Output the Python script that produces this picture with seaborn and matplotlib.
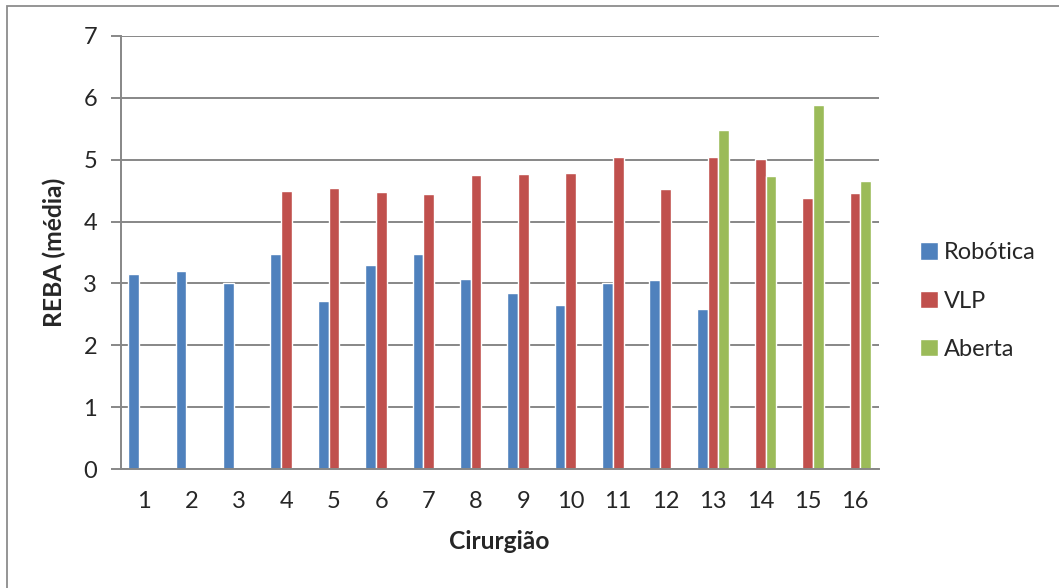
import matplotlib
matplotlib.use("Agg")
import matplotlib.pyplot as plt
from matplotlib.patches import Rectangle
import numpy as np
import pandas as pd
import seaborn as sns

# REBA mean score per surgeon and surgery type (NaN = no surgeries of that type)
cirurgioes = [str(i) for i in range(1, 17)]
robotica = [3.15, 3.20, 3.00, 3.47, 2.72, 3.30, 3.47, 3.07, 2.85, 2.65, 3.00, 3.06, 2.58,
            np.nan, np.nan, np.nan]
vlp = [np.nan, np.nan, np.nan, 4.50, 4.54, 4.48, 4.45, 4.75, 4.77, 4.79, 5.05, 4.52, 5.05,
       5.01, 4.38, 4.46]
aberta = [np.nan] * 12 + [5.48, 4.73, 5.88, 4.65]
tipos = ["Robótica", "VLP", "Aberta"]
cores = ["#4F81BD", "#C0504D", "#9BBB59"]
y_ticks = [0, 1, 2, 3, 4, 5, 6, 7]

df = pd.DataFrame({
    "Cirurgião": cirurgioes * 3,
    "REBA": robotica + vlp + aberta,
    "Tipo": [t for t in tipos for _ in cirurgioes],
})

sns.set_style("white")
plt.rcParams["font.family"] = ["Lato", "DejaVu Sans"]

fig = plt.figure(figsize=(10.59, 5.88), dpi=100)
ax = fig.add_axes([120.7 / 1059, 1 - 469 / 588, (878.7 - 120.7) / 1059, (469 - 36) / 588])

sns.barplot(data=df, x="Cirurgião", y="REBA", hue="Tipo", order=cirurgioes,
            hue_order=tipos, palette=cores, saturation=1, width=0.68,
            errorbar=None, ax=ax, legend=True)

grid_c = "#878787"
ax.set_ylim(0, 7)
ax.set_xlim(-0.5, len(cirurgioes) - 0.5)
ax.set_yticks(y_ticks)
ax.set_yticklabels([str(v) for v in y_ticks], fontsize=17)
ax.yaxis.grid(True, color=grid_c, linewidth=1.4)
ax.set_axisbelow(True)

# category labels centred, tick marks between categories
ax.set_xticks(range(len(cirurgioes)))
ax.set_xticklabels(cirurgioes, fontsize=17)
ax.set_xticks(np.arange(-0.5, len(cirurgioes)), minor=True)
ax.tick_params(axis="x", which="major", length=0, pad=16)
ax.tick_params(axis="x", which="minor", length=7, width=1.4, color=grid_c, direction="out")
ax.tick_params(axis="y", which="major", length=7, width=1.4, color=grid_c, direction="out",
               left=True, pad=10)

for s in ["top", "right"]:
    ax.spines[s].set_visible(False)
for s in ["left", "bottom"]:
    ax.spines[s].set_color(grid_c)
    ax.spines[s].set_linewidth(1.4)

ax.set_xlabel("Cirurgião", fontsize=17.7, fontweight="bold", labelpad=13)
ax.set_ylabel("REBA (média)", fontsize=17.7, fontweight="bold", labelpad=12)

handles, labels = ax.get_legend_handles_labels()
ax.legend(handles, labels, loc="center left", bbox_to_anchor=(899 / 1059, 1 - 301 / 588),
          bbox_transform=fig.transFigure, frameon=False, fontsize=17,
          handlelength=0.75, handleheight=0.75, handletextpad=0.25, labelspacing=1.16)

# chart frame
fig.patches.append(Rectangle((7 / 1059, -0.1), 1.2, 1 - 5.5 / 588 + 0.1,
                             transform=fig.transFigure, fill=False,
                             edgecolor="#8C8C8C", linewidth=1.3))

fig.savefig("out.png", dpi=100)
